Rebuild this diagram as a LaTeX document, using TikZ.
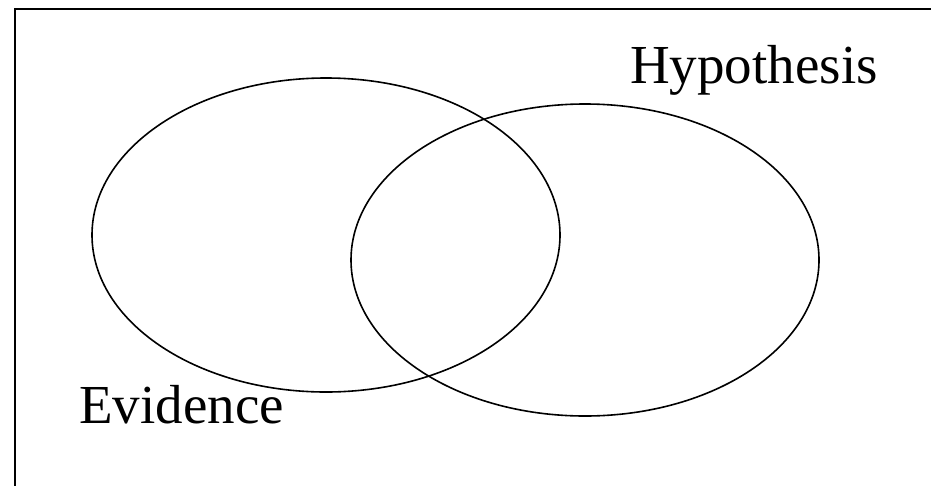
\documentclass[tikz,border=0pt]{standalone}
\usepackage{fontspec}
\setmainfont{Liberation Serif}
\usetikzlibrary{shapes.geometric}
\begin{document}
\begin{tikzpicture}[x=1pt,y=-1pt,
  venn/.style={draw=black,line width=1.6pt,shape=ellipse,inner sep=0pt},
  lbl/.style={anchor=base west,inner sep=0pt,font=\fontsize{55}{60}\selectfont}]
\useasboundingbox (0,0) rectangle (931,485);
\draw[line width=2pt] (940,9) -- (14.5,9) -- (14.5,495);
\node[venn,minimum width=468pt,minimum height=314pt] (ev) at (326,235) {};
\node[venn,minimum width=468pt,minimum height=312pt] (hy) at (585,260) {};
\node[lbl] (hyl) at (630,83) {Hypothesis};
\node[lbl] (evl) at (79,423) {Evidence};
\end{tikzpicture}
\end{document}
